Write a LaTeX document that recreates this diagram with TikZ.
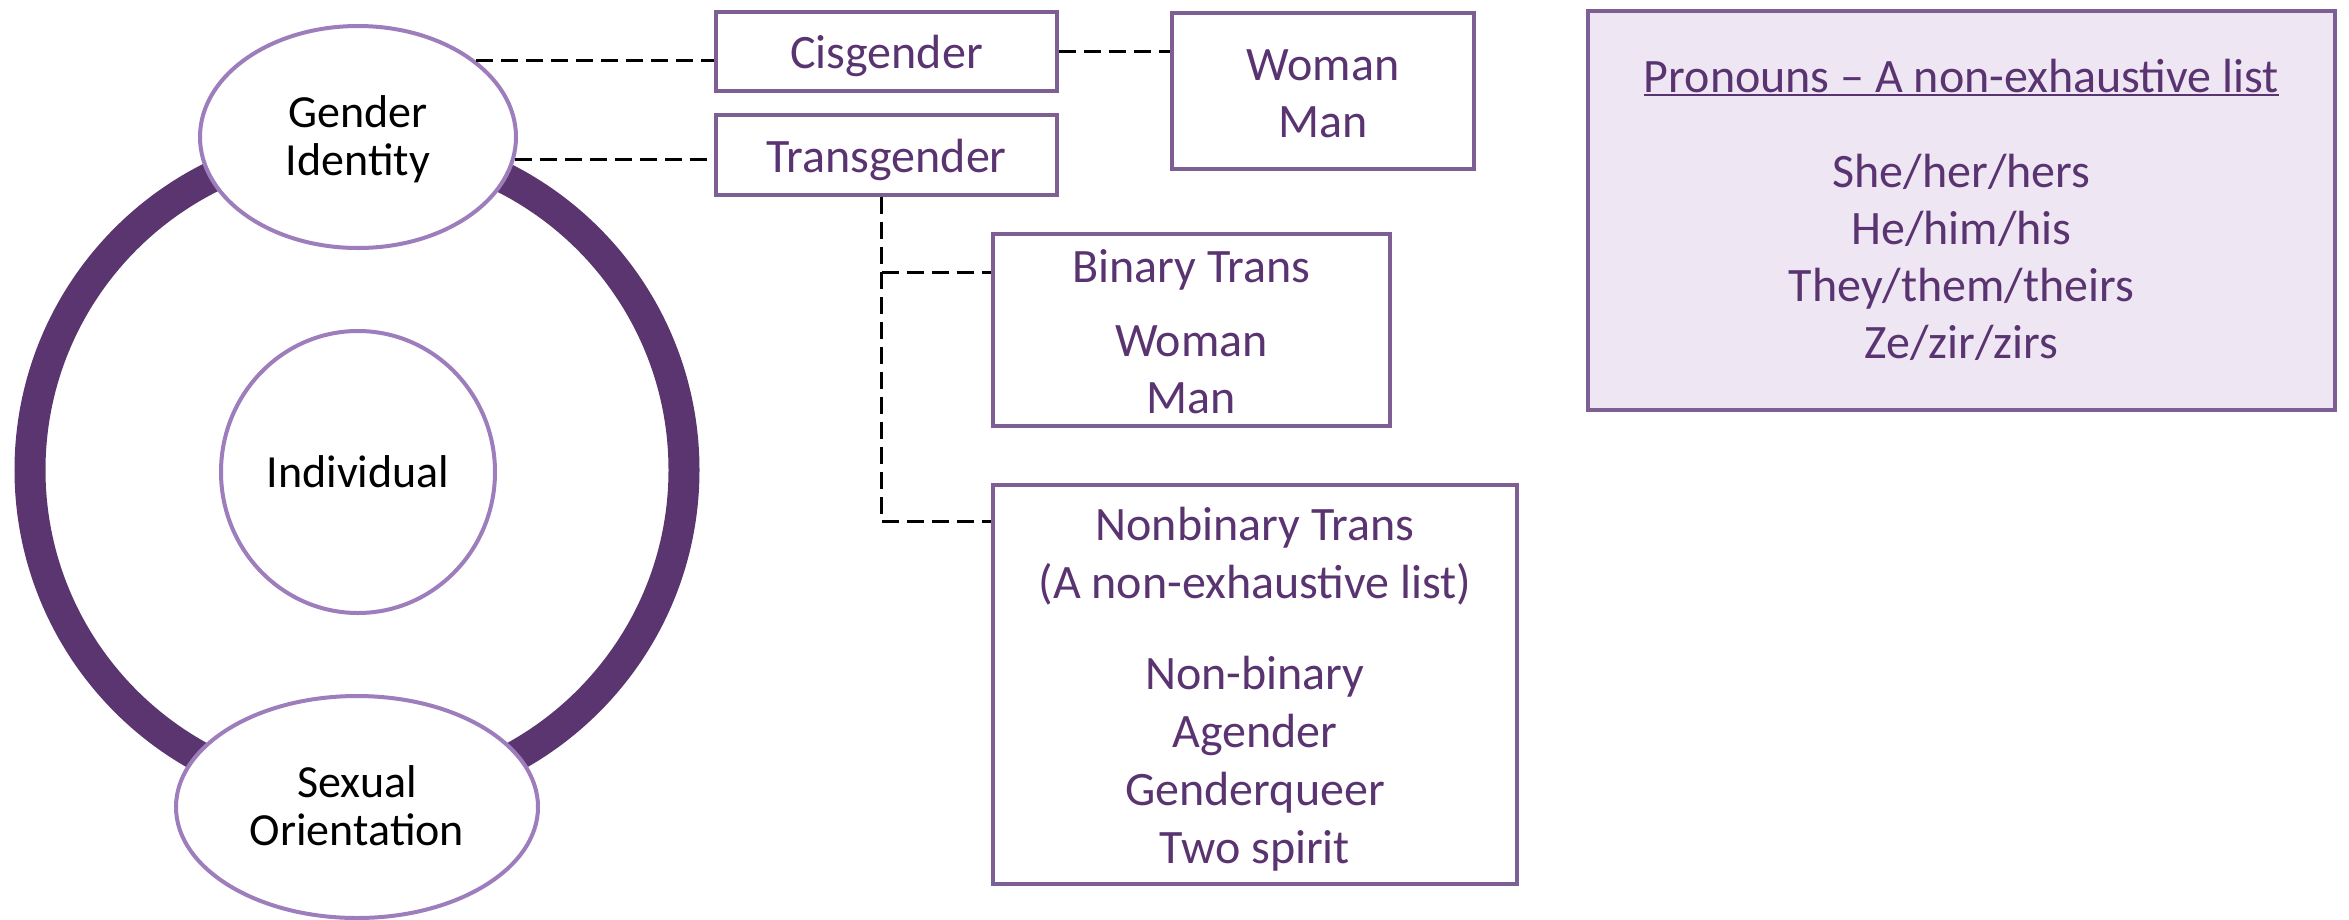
\documentclass[tikz,border=0pt]{standalone}
\usepackage{fontspec}
\setmainfont{Carlito}
\usetikzlibrary{shapes.geometric,calc}
\definecolor{ringc}{HTML}{5A3570}
\definecolor{ellc}{HTML}{9D7DBB}
\definecolor{boxc}{HTML}{7D5F93}
\definecolor{txtc}{HTML}{5A3371}
\definecolor{fillc}{HTML}{EEE6F3}
\newcommand\pronul[1]{\setbox0\hbox{#1}\rlap{\rule[-4pt]{\wd0}{2.5pt}}\box0}
\begin{document}
\begin{tikzpicture}[x=1pt,y=-1pt,
  circ/.style={ellipse,draw=ellc,line width=4pt,fill=white,inner sep=0pt,align=center,font=\fontsize{46}{48}\selectfont,text=black,text depth=0pt},
  boxn/.style={rectangle,draw=boxc,line width=4.5pt,inner sep=0pt,align=center,font=\fontsize{48}{57}\selectfont,text=txtc,text depth=0pt},
  conn/.style={draw=black,line width=3pt,dash pattern=on 17pt off 8pt}]
\useasboundingbox (0,0) rectangle (2349,919);
\draw[ringc,line width=31pt] (357,470) circle[radius=327pt];
\node[circ,minimum width=316pt,minimum height=222pt,text height=76pt] (gi) at (358,137) {Gender\\Identity};
\node[circ,minimum width=274pt,minimum height=282pt,text height=30pt] (ind) at (358,472) {Individual};
\node[circ,minimum width=362pt,minimum height=222pt,text height=76pt] (so) at (357,807) {Sexual\\Orientation};
\node[boxn,minimum width=341pt,minimum height=79pt,text height=33pt] (cis) at (886.5,51.5) {Cisgender};
\node[boxn,minimum width=341pt,minimum height=80pt,text height=34pt] (tg) at (886.5,155) {Transgender};
\node[boxn,minimum width=302pt,minimum height=156pt,text height=92pt] (wm) at (1323,91) {Woman\\Man};
\node[boxn,minimum width=397pt,minimum height=192pt,text height=166pt] (bt) at (1191.5,330) {Binary Trans\\[17pt]Woman\\Man};
\node[boxn,minimum width=524pt,minimum height=399pt,text height=357pt,font=\fontsize{48}{58}\selectfont] (nb) at (1255,684.5) {Nonbinary Trans\\(A non-exhaustive list)\\[33pt]Non-binary\\Agender\\Genderqueer\\Two spirit};
\node[boxn,fill=fillc,minimum width=747pt,minimum height=399pt,text height=295pt] (pr) at (1961.5,210.5) {\pronul{Pronouns – A non-exhaustive list}\\[38pt]She/her/hers\\He/him/his\\They/them/theirs\\Ze/zir/zirs};
\coordinate (btj) at ($(bt.north west)+(0,41)$);
\coordinate (nbj) at ($(nb.north west)+(0,39)$);
\coordinate (tgs) at ($(tg.south)+(-5,0)$);
\draw[conn] (gi.33) -- (gi.33 -| cis.west);
\draw[conn] (gi.-8) -- (gi.-8 -| tg.west);
\draw[conn] (cis.east) -- (cis.east -| wm.west);
\draw[conn] (tgs) |- (nbj);
\draw[conn] (tgs |- btj) -- (btj);
\end{tikzpicture}
\end{document}
